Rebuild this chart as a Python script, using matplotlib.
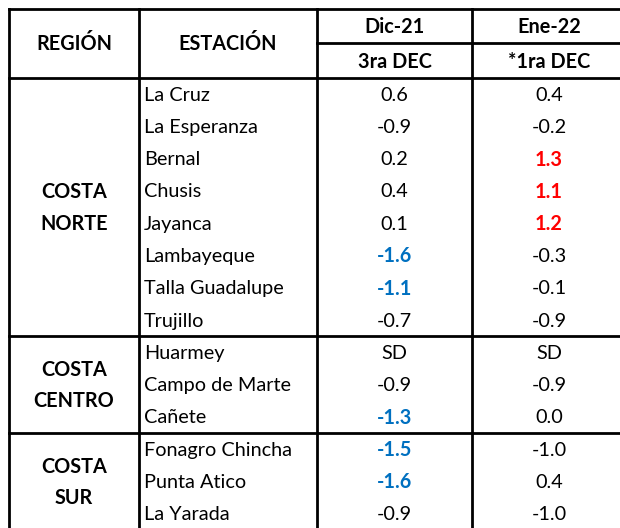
import matplotlib.pyplot as plt

plt.rcParams['font.family'] = ['Lato', 'DejaVu Sans']

regions = ["COSTA\nNORTE", "COSTA\nCENTRO", "COSTA\nSUR"]
region_sizes = [8, 3, 3]

stations = ["La Cruz", "La Esperanza", "Bernal", "Chusis", "Jayanca", "Lambayeque",
            "Talla Guadalupe", "Trujillo",
            "Huarmey", "Campo de Marte", "Cañete",
            "Fonagro Chincha", "Punta Atico", "La Yarada"]

# None = sin dato (SD)
dic21 = [0.6, -0.9, 0.2, 0.4, 0.1, -1.6, -1.1, -0.7,
         None, -0.9, -1.3,
         -1.5, -1.6, -0.9]
ene22 = [0.4, -0.2, 1.3, 1.1, 1.2, -0.3, -0.1, -0.9,
         None, -0.9, 0.0,
         -1.0, 0.4, -1.0]

months = ["Dic-21", "Ene-22"]
decades = ["3ra DEC", "*1ra DEC"]

# layout in pixels
W, H = 620, 528
col_x = [9, 139, 317, 472, 626]
top = 9
head_mid = 43
head_bot = 78
row_h = 32.27
fs = 14.3
lw = 2.0
blue = '#0070C0'
red = '#FF0000'

fig = plt.figure(figsize=(W / 100, H / 100), dpi=100)
ax = fig.add_axes([0, 0, 1, 1])
ax.set_xlim(0, W)
ax.set_ylim(H, 0)
ax.axis('off')


def vcolor(v):
    if v is None:
        return 'black'
    if v > 1.0:
        return red
    if v < -1.0:
        return blue
    return 'black'


bottom = head_bot + row_h * len(stations)

# header
ax.text((col_x[0] + col_x[1]) / 2, (top + head_bot) / 2 + 1, "REGIÓN", ha='center', va='center',
        fontsize=fs, fontweight='bold')
ax.text((col_x[1] + col_x[2]) / 2, (top + head_bot) / 2 + 1, "ESTACIÓN", ha='center', va='center',
        fontsize=fs, fontweight='bold')
for j in range(2):
    cx = (col_x[2 + j] + col_x[3 + j]) / 2
    ax.text(cx, (top + head_mid) / 2 + 1, months[j], ha='center', va='center',
            fontsize=fs, fontweight='bold')
    ax.text(cx, (head_mid + head_bot) / 2 + 1, decades[j], ha='center', va='center',
            fontsize=fs, fontweight='bold')

# rows
for i, name in enumerate(stations):
    cy = head_bot + row_h * (i + 0.5) + 1
    ax.text(col_x[1] + 5, cy, name, ha='left', va='center', fontsize=fs)
    for j, vals in enumerate([dic21, ene22]):
        v = vals[i]
        txt = "SD" if v is None else f"{v:.1f}"
        c = vcolor(v)
        ax.text((col_x[2 + j] + col_x[3 + j]) / 2, cy, txt, ha='center', va='center',
                fontsize=fs, color=c, fontweight='bold' if c != 'black' else 'normal')

# regions and group borders
y0 = head_bot
for reg, n in zip(regions, region_sizes):
    y1 = y0 + row_h * n
    mid = (y0 + y1) / 2
    parts = reg.split("\n")
    for k, part in enumerate(parts):
        ax.text((col_x[0] + col_x[1]) / 2, mid + (k - (len(parts) - 1) / 2) * 31.5 + 1, part,
                ha='center', va='center', fontsize=fs, fontweight='bold')
    ax.plot([col_x[0], col_x[-1]], [y1, y1], color='black', lw=lw, solid_capstyle='projecting')
    y0 = y1

# grid lines
ax.plot([col_x[0], col_x[-1]], [top, top], color='black', lw=lw, solid_capstyle='projecting')
ax.plot([col_x[2], col_x[-1]], [head_mid, head_mid], color='black', lw=lw)
ax.plot([col_x[0], col_x[-1]], [head_bot, head_bot], color='black', lw=lw)
for x in col_x:
    ax.plot([x, x], [top, bottom], color='black', lw=lw, solid_capstyle='projecting')

fig.savefig('out.png', dpi=100)
